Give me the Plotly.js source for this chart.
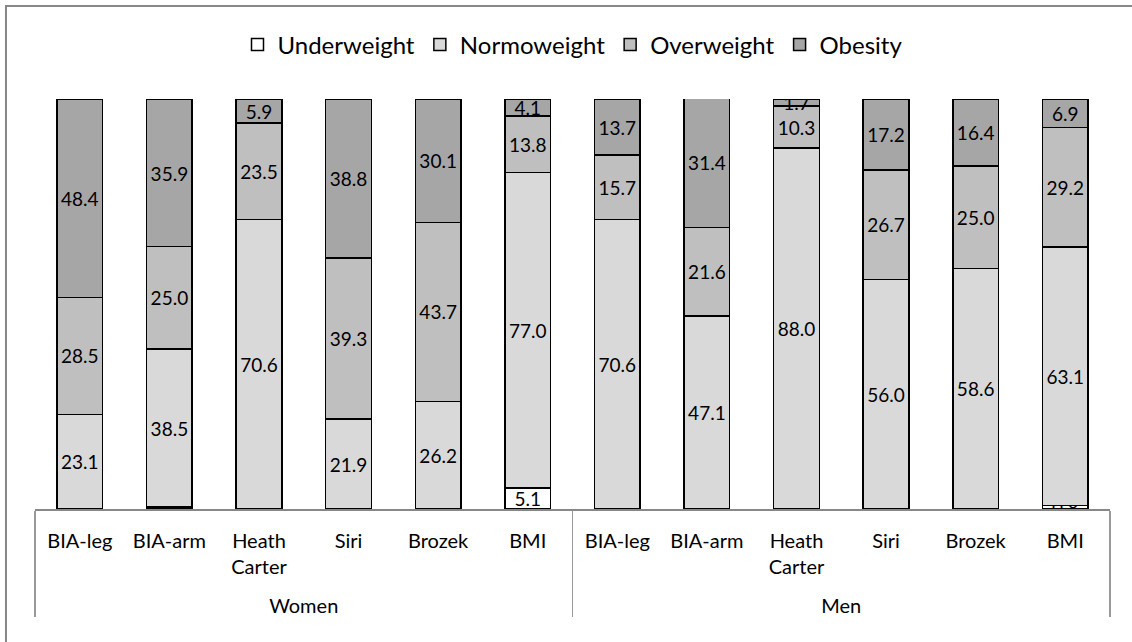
<!DOCTYPE html>
<html>
<head>
<meta charset="utf-8">
<script src="https://cdn.plot.ly/plotly-3.0.1.min.js"></script>
<style>
html,body{margin:0;padding:0;background:#fff;}
#chart{width:1132px;height:642px;}
</style>
</head>
<body>
<div id="chart"></div>
<script>
// ---- data ----
var groups = ['<br>Women','<br>Women','<br>Women','<br>Women','<br>Women','<br>Women','<br>Men','<br>Men','<br>Men','<br>Men','<br>Men','<br>Men'];
var methods = ['BIA-leg','BIA-arm','Heath<br>Carter','Siri','Brozek','BMI','BIA-leg','BIA-arm','Heath<br>Carter','Siri','Brozek','BMI'];
var seriesNames = ['Underweight','Normoweight','Overweight','Obesity'];
var underweight = [0, 0.5, 0, 0, 0, 5.1, 0, 0, 0, 0, 0, 0.8];
var normoweight = [23.1, 38.5, 70.6, 21.9, 26.2, 77.0, 70.6, 47.1, 88.0, 56.0, 58.6, 63.1];
var overweight  = [28.5, 25.0, 23.5, 39.3, 43.7, 13.8, 15.7, 21.6, 10.3, 26.7, 25.0, 29.2];
var obesity     = [48.4, 35.9, 5.9, 38.8, 30.1, 4.1, 13.7, 31.4, 1.7, 17.2, 16.4, 6.9];

var seriesValues = [underweight, normoweight, overweight, obesity];
var seriesColors = ['#ffffff', '#d9d9d9', '#bfbfbf', '#a6a6a6'];
var FONT = 'Lato, "Noto Sans", sans-serif';

var traces = seriesValues.map(function(vals, i){
  return {
    type: 'bar',
    name: seriesNames[i],
    x: [groups, methods],
    y: vals,
    text: vals.map(function(v){ return v ? v.toFixed(1) : ''; }),
    textposition: 'inside',
    insidetextanchor: 'middle',
    constraintext: 'none',
    textangle: 0,
    textfont: {family: FONT, size: 19, color: '#000'},
    marker: {color: seriesColors[i], line: {color: '#000', width: 1.5}},
    hoverinfo: 'skip'
  };
});

var layout = {
  width: 1132, height: 642,
  margin: {l: 35, r: 22, t: 99, b: 133},
  paper_bgcolor: '#fff', plot_bgcolor: '#fff',
  barmode: 'stack',
  bargap: 0.49,
  showlegend: true,
  legend: {
    orientation: 'h', x: 0.5, xanchor: 'center', y: 1.132, yanchor: 'middle',
    traceorder: 'normal',
    font: {family: FONT, size: 24, color: '#000'},
    itemwidth: 30
  },
  xaxis: {
    type: 'multicategory',
    showline: true, linecolor: '#888', linewidth: 1.5,
    ticks: '', showgrid: false,
    ticklabelstandoff: 13,
    showdividers: true, dividercolor: '#999', dividerwidth: 1.5,
    tickfont: {family: FONT, size: 20, color: '#000'},
    range: [-0.5, 11.5]
  },
  yaxis: {
    range: [0, 100], visible: false, showgrid: false, zeroline: false
  },
  font: {family: FONT, color: '#000'},
  shapes: [{
    type: 'rect', xref: 'paper', yref: 'paper',
    x0: -0.027, x1: 1.2, y0: -0.6, y1: 1.2268,
    line: {color: '#888', width: 2}, fillcolor: 'rgba(0,0,0,0)', layer: 'below'
  }]
};

Plotly.newPlot('chart', traces, layout, {displayModeBar: false, staticPlot: true});
</script>
</body>
</html>
